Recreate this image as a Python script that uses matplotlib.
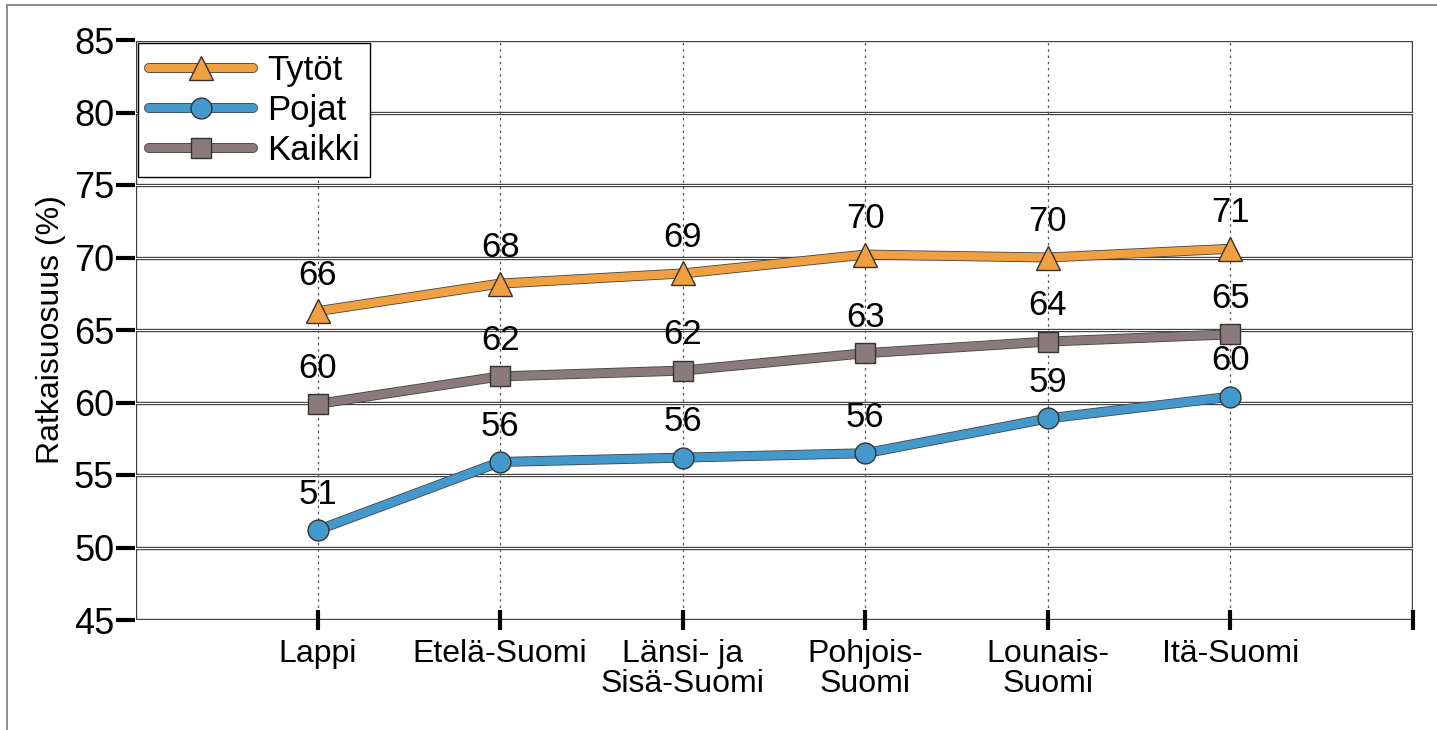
import matplotlib.pyplot as plt
import matplotlib.patheffects as pe
from matplotlib.patches import Rectangle
from matplotlib.legend_handler import HandlerTuple
import numpy as np

plt.rcParams['font.family'] = ['Liberation Sans Narrow', 'Liberation Sans', 'DejaVu Sans']

# Data
regions = ['Lappi', 'Etelä-Suomi', 'Länsi- ja\nSisä-Suomi', 'Pohjois-\nSuomi', 'Lounais-\nSuomi', 'Itä-Suomi']
tytot = [66.3, 68.2, 68.9, 70.2, 70.0, 70.6]
pojat = [51.2, 55.9, 56.2, 56.5, 58.9, 60.4]
kaikki = [59.9, 61.8, 62.2, 63.4, 64.2, 64.7]

series = [
    ('Tytöt', tytot, '#f0a040', '^', 17),
    ('Pojat', pojat, '#4499cc', 'o', 15),
    ('Kaikki', kaikki, '#8a7a7c', 's', 15),
]

fig = plt.figure(figsize=(14.37, 7.30), dpi=100)
ax = fig.add_axes([135 / 1437, 110 / 730, 1278 / 1437, 580 / 730])

# outer frame of the figure
fig.patches.append(Rectangle((7 / 1437, -0.1), 1.2, 725 / 730 + 0.1, transform=fig.transFigure,
                             fill=False, edgecolor='#777777', linewidth=1.2))

x = np.arange(len(regions))

# horizontal double gridlines
for yv in range(45, 90, 5):
    ax.axhline(yv, color='#3a3a3a', linewidth=2.4, zorder=1)
    ax.axhline(yv, color='white', linewidth=0.8, zorder=1.1)

# vertical dotted gridlines
for xv in x:
    ax.axvline(xv, color='#555555', linewidth=0.9, linestyle=(0, (2, 3)), zorder=1.2)

# left / right border double
for xv in (-1, 6):
    ax.axvline(xv, color='#333333', linewidth=2.4, zorder=1)
    ax.axvline(xv, color='white', linewidth=0.8, zorder=1.1)

handles = []
for name, vals, color, marker, ms in series:
    line, = ax.plot(x, vals, color=color, linewidth=6, solid_capstyle='round', zorder=3,
                    path_effects=[pe.Stroke(linewidth=7.2, foreground='#444444'), pe.Normal()])
    pts, = ax.plot(x, vals, linestyle='none', marker=marker, markersize=ms,
                   markerfacecolor=color, markeredgecolor='#333333', markeredgewidth=1.0, zorder=3.5)
    handles.append((line, pts))
    for xi, v in zip(x, vals):
        ax.annotate(f'{v:.0f}', (xi, v), xytext=(0, 14), textcoords='offset points',
                    ha='center', va='bottom', fontsize=25, color='black', zorder=4)

ax.set_xlim(-1, 6)
ax.set_ylim(45, 85)
ax.set_yticks(range(45, 90, 5))
ax.set_xticks(list(x) + [6])
ax.set_xticklabels(regions + [''], fontsize=23, linespacing=1.0, va='top')
ax.tick_params(axis='y', labelsize=26, length=14, width=3, direction='out', pad=1)
ax.tick_params(axis='x', length=14, width=3, direction='inout', pad=7)

for s in ax.spines.values():
    s.set_visible(False)

ax.set_ylabel('Ratkaisuosuus (%)', fontsize=23, labelpad=6)

leg = ax.legend(handles=handles, labels=[s[0] for s in series],
                handler_map={tuple: HandlerTuple(ndivide=1)},
                loc='upper left', fontsize=25, frameon=True, fancybox=False,
                edgecolor='black', framealpha=1, borderaxespad=0.1, handlelength=3.0,
                labelspacing=0.2, borderpad=0.3, handletextpad=0.4)
leg.get_frame().set_linewidth(1.0)
leg.set_zorder(5)

fig.savefig('out.png', dpi=100)
